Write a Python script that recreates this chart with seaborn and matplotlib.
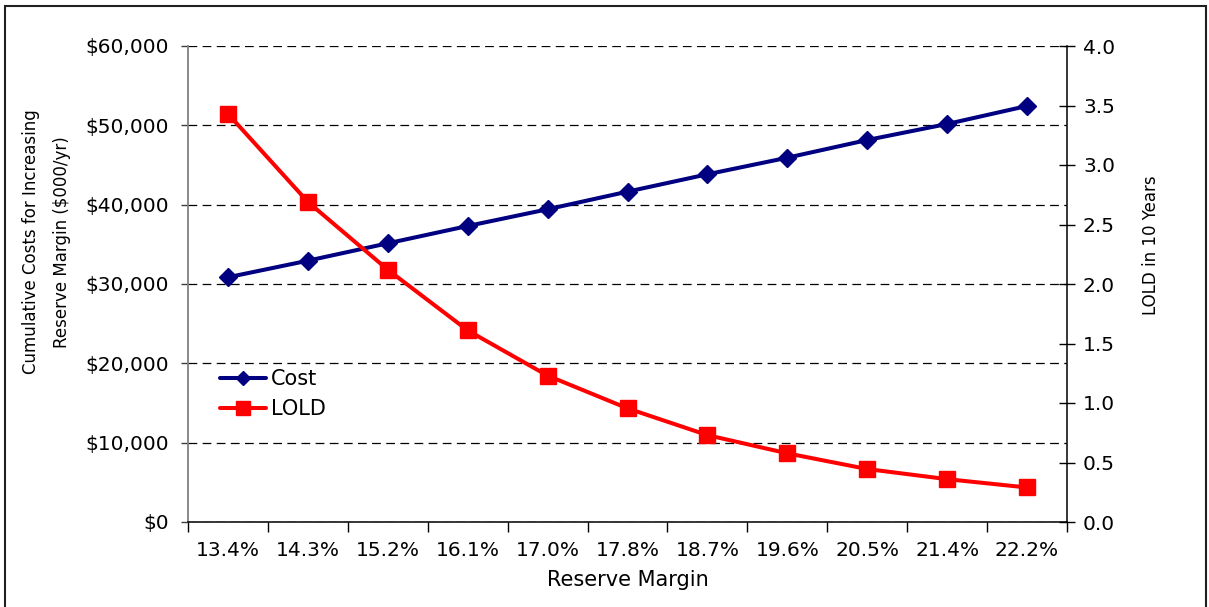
import matplotlib
matplotlib.use("Agg")
import matplotlib.pyplot as plt
from matplotlib.patches import Rectangle
from matplotlib.ticker import FuncFormatter
import seaborn as sns

# Reserve margin scenarios and their results
reserve_margin = ["13.4%", "14.3%", "15.2%", "16.1%", "17.0%", "17.8%",
                  "18.7%", "19.6%", "20.5%", "21.4%", "22.2%"]
cost = [30850, 32940, 35130, 37310, 39420, 41640, 43830, 45920, 48150, 50170, 52440]
lold = [3.43, 2.69, 2.12, 1.61, 1.23, 0.955, 0.73, 0.577, 0.445, 0.36, 0.29]

cost_ticks = [0, 10000, 20000, 30000, 40000, 50000, 60000]
lold_ticks = [0.0, 0.5, 1.0, 1.5, 2.0, 2.5, 3.0, 3.5, 4.0]

NAVY = "#000080"
RED = "#FF0000"

sns.set_style("white")
plt.rcParams["font.family"] = ["DejaVu Sans"]
plt.rcParams.update({"text.color": "black", "axes.labelcolor": "black",
                     "xtick.color": "black", "ytick.color": "black"})

W, H = 1209, 607
fig = plt.figure(figsize=(W / 100, H / 100), dpi=100)
ax = fig.add_axes([188 / W, 1 - 522 / H, (1067 - 188) / W, (522 - 46) / H])
ax2 = ax.twinx()

sns.lineplot(x=reserve_margin, y=cost, ax=ax, color=NAVY, marker="D",
             markersize=9, markeredgecolor=NAVY, markeredgewidth=1,
             linewidth=2.9, label="Cost", sort=False)
sns.lineplot(x=reserve_margin, y=lold, ax=ax2, color=RED, marker="s",
             markersize=11, markeredgecolor=RED, markeredgewidth=1,
             linewidth=2.9, label="LOLD", sort=False)

ax.set_xlim(-0.5, len(reserve_margin) - 0.5)
ax.set_ylim(0, 60000)
ax2.set_ylim(0, 4)

# Category labels centred, tick marks between categories
ax.set_xticks(range(len(reserve_margin)))
ax.set_xticklabels(reserve_margin)
ax.set_xticks([i - 0.5 for i in range(len(reserve_margin) + 1)], minor=True)
ax.tick_params(axis="x", which="major", length=0, pad=14, labelsize=14.5,
               bottom=False)
ax.tick_params(axis="x", which="minor", bottom=True, direction="out",
               length=7, width=1, color="black")

ax.set_yticks(cost_ticks)
ax.yaxis.set_major_formatter(FuncFormatter(lambda v, p: "\\$" + f"{v:,.0f}"))
ax.tick_params(axis="y", left=True, direction="out", length=5, width=1,
               color="#404040", pad=9, labelsize=14.5)

ax2.set_yticks(lold_ticks)
ax2.yaxis.set_major_formatter(FuncFormatter(lambda v, p: f"{v:.1f}"))
ax2.tick_params(axis="y", right=True, direction="inout", length=11, width=1,
                color="black", pad=6, labelsize=14.5)

# Dashed horizontal gridlines at the cost ticks
ax.grid(False)
ax2.grid(False)
ax.yaxis.grid(True, color="black", linestyle=(0, (7, 4.3)), linewidth=0.9)

for s in ("top", "right"):
    ax.spines[s].set_visible(False)
ax.spines["left"].set_color("#808080")
ax.spines["left"].set_linewidth(1.3)
ax.spines["bottom"].set_color("black")
ax.spines["bottom"].set_linewidth(1.1)
for s in ("top", "left", "bottom"):
    ax2.spines[s].set_visible(False)
ax2.spines["right"].set_color("black")
ax2.spines["right"].set_linewidth(1.1)

ax.set_xlabel("Reserve Margin", fontsize=15, labelpad=7)
ax.set_ylabel("Cumulative Costs for Increasing\nReserve Margin (\\$000/yr)",
              fontsize=12, linespacing=1.9)
ax.yaxis.set_label_coords((71 - 188) / 879, 0.588)
ax2.set_ylabel("LOLD in 10 Years", fontsize=12)
ax2.yaxis.set_label_coords((1142 - 188) / 879, 0.582)

# Combined legend for both series
h1, l1 = ax.get_legend_handles_labels()
h2, l2 = ax2.get_legend_handles_labels()
for a in (ax, ax2):
    if a.get_legend() is not None:
        a.get_legend().remove()
leg = ax2.legend(h1 + h2, l1 + l2, loc="upper left",
                 bbox_to_anchor=((220 - 188) / 879, (522 - 369) / 476),
                 frameon=False, fontsize=15, handlelength=2.2,
                 handletextpad=0.25, labelspacing=0.5, borderpad=0,
                 borderaxespad=0)
leg.legend_handles[0].set_markersize(7)
leg.legend_handles[1].set_markersize(9.5)

# Outer frame around the figure
fig.patches.append(Rectangle((5 / W, -0.02), (1206 - 5) / W, (H - 6) / H + 0.02,
                             transform=fig.transFigure, fill=False,
                             linewidth=1.5, edgecolor="#202020"))

fig.savefig("out.png", dpi=100)
